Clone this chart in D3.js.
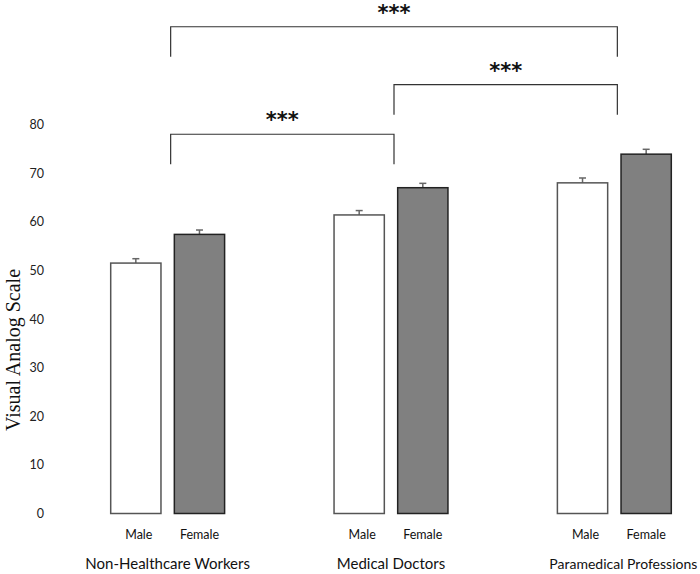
<!DOCTYPE html>
<html>
<head>
<meta charset="utf-8">
<script src="https://cdn.jsdelivr.net/npm/d3@7"></script>
<style>
  html, body { margin: 0; padding: 0; background: #fff; }
  svg { display: block; }
</style>
</head>
<body>
<svg id="chart" width="700" height="574"></svg>
<script>
const categories = ["Non-Healthcare Workers", "Medical Doctors", "Paramedical Professions"];
const sexes = ["Male", "Female"];
const maleValues = [51.5, 61.4, 68.0];
const femaleValues = [57.4, 67.0, 73.9];
const maleErrors = [0.9, 0.9, 1.0];
const femaleErrors = [0.9, 0.9, 1.0];
const yTicks = [0, 10, 20, 30, 40, 50, 60, 70, 80];
const comparisons = [
  { from: 0, to: 1, level: 78.0, label: "***" },
  { from: 1, to: 2, level: 88.2, label: "***" },
  { from: 0, to: 2, level: 100.1, label: "***" }
];

const svg = d3.select("#chart");

const x0 = d3.scaleBand().domain(categories).range([110.7, 671.3]).paddingInner(0.49).paddingOuter(0);
const x1 = d3.scaleBand().domain(sexes).range([0, x0.bandwidth()]).paddingInner(0.21).paddingOuter(0);
const y = d3.scaleLinear().domain([0, 80]).range([513.5, 124.5]);

const rows = [];
categories.forEach((c, i) => {
  rows.push({ cat: c, sex: "Male", value: maleValues[i], err: maleErrors[i] });
  rows.push({ cat: c, sex: "Female", value: femaleValues[i], err: femaleErrors[i] });
});

// Y axis (labels only)
const yAxis = d3.axisLeft(y).tickValues(yTicks).tickSize(0).tickPadding(0);
const yg = svg.append("g").attr("transform", "translate(44,0)").call(yAxis);
yg.select(".domain").remove();
yg.selectAll("text")
  .attr("font-family", "Lato, 'Open Sans', sans-serif")
  .attr("font-size", 12.5)
  .attr("fill", "#222");

// Y axis title
svg.append("text")
  .attr("transform", "translate(20,350) rotate(-90)")
  .attr("text-anchor", "middle")
  .attr("font-family", "'Liberation Serif', 'Times New Roman', serif")
  .attr("font-size", 20)
  .attr("fill", "#111")
  .text("Visual Analog Scale");

// Error bars
const eg = svg.append("g");
rows.forEach(d => {
  const cx = x0(d.cat) + x1(d.sex) + x1.bandwidth() / 2;
  eg.append("line")
    .attr("x1", cx).attr("x2", cx)
    .attr("y1", y(d.value)).attr("y2", y(d.value + d.err))
    .attr("stroke", "#666").attr("stroke-width", 1.5);
  eg.append("line")
    .attr("x1", cx - 3.5).attr("x2", cx + 3.5)
    .attr("y1", y(d.value + d.err)).attr("y2", y(d.value + d.err))
    .attr("stroke", "#666").attr("stroke-width", 1.5);
});

// Bars
svg.append("g").selectAll("rect").data(rows).join("rect")
  .attr("x", d => x0(d.cat) + x1(d.sex))
  .attr("y", d => y(d.value))
  .attr("width", x1.bandwidth())
  .attr("height", d => y(0) - y(d.value))
  .attr("fill", d => d.sex === "Male" ? "#ffffff" : "#808080")
  .attr("stroke", d => d.sex === "Male" ? "#555" : "#222")
  .attr("stroke-width", 1.5);

// Sex labels
svg.append("g").selectAll("text").data(rows).join("text")
  .attr("x", d => x0(d.cat) + x1(d.sex) + x1.bandwidth() / 2 + (d.sex === "Male" ? 3 : 0))
  .attr("y", 539)
  .attr("text-anchor", "middle")
  .attr("font-family", "Lato, 'Open Sans', sans-serif")
  .attr("font-size", 12.5)
  .attr("fill", "#111")
  .text(d => d.sex);

// Group labels
svg.append("g").selectAll("text").data(categories).join("text")
  .attr("x", (d, i) => x0(d) + x0.bandwidth() / 2 + (i === 2 ? 9 : 0))
  .attr("y", 569)
  .attr("text-anchor", "middle")
  .attr("font-family", "Lato, 'Open Sans', sans-serif")
  .attr("font-size", (d, i) => i === 2 ? 14 : 15)
  .attr("fill", "#111")
  .text(d => d);

// Significance brackets
const bg = svg.append("g");
comparisons.forEach(c => {
  const xa = x0(categories[c.from]) + x0.bandwidth() / 2 + 3;
  const xb = x0(categories[c.to]) + x0.bandwidth() / 2 + 3;
  const yl = y(c.level);
  bg.append("path")
    .attr("d", `M${xa},${yl + 30}V${yl}H${xb}V${yl + 30}`)
    .attr("fill", "none")
    .attr("stroke", "#333")
    .attr("stroke-width", 1.2);
  bg.append("text")
    .attr("x", (xa + xb) / 2)
    .attr("y", yl - 7)
    .attr("text-anchor", "middle")
    .attr("font-family", "'DejaVu Sans', sans-serif")
    .attr("font-weight", "bold")
    .attr("font-size", 21)
    .attr("fill", "#111")
    .text(c.label);
});
</script>
</body>
</html>
